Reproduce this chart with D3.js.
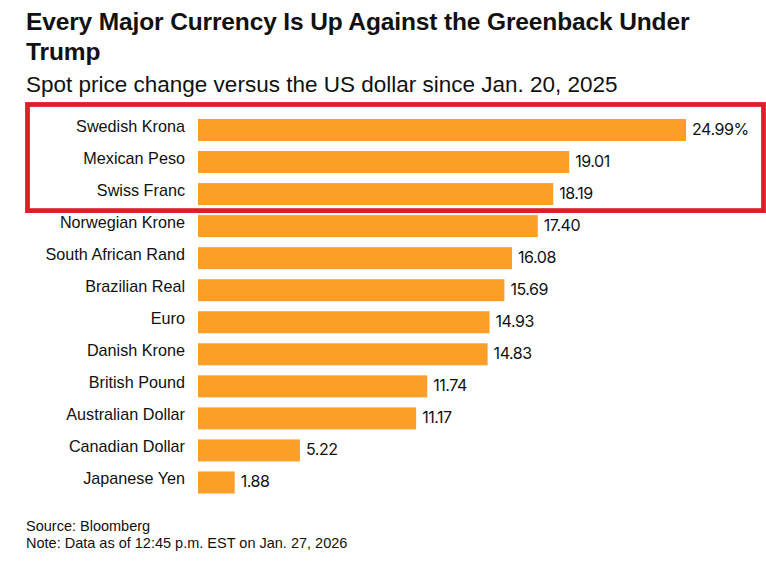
<!DOCTYPE html>
<html lang="en">
<head>
<meta charset="utf-8">
<title>Every Major Currency Is Up Against the Greenback Under Trump</title>
<script src="https://d3js.org/d3.v7.min.js"></script>
<style>
html, body { margin: 0; padding: 0; background: #fff; }
svg { display: block; }
text { font-family: "Liberation Sans", sans-serif; fill: #111; }
</style>
</head>
<body>
<svg id="chart" width="766" height="565"></svg>
<script>
const currencies = ["Swedish Krona", "Mexican Peso", "Swiss Franc", "Norwegian Krone", "South African Rand",
  "Brazilian Real", "Euro", "Danish Krone", "British Pound", "Australian Dollar", "Canadian Dollar", "Japanese Yen"];
const changes = [24.99, 19.01, 18.19, 17.40, 16.08, 15.69, 14.93, 14.83, 11.74, 11.17, 5.22, 1.88];
const titleLines = ["Every Major Currency Is Up Against the Greenback Under", "Trump"];
const subtitle = "Spot price change versus the US dollar since Jan. 20, 2025";
const footnotes = ["Source: Bloomberg", "Note: Data as of 12:45 p.m. EST on Jan. 27, 2026"];
const highlighted = ["Swedish Krona", "Mexican Peso", "Swiss Franc"];

const svg = d3.select("#chart");

const x = d3.scaleLinear().domain([0, 24.99]).range([198, 686]);
const y = d3.scaleBand().domain(currencies).range([114.5, 498]).paddingInner(0.3125).paddingOuter(0.14);

// title block
svg.selectAll("text.title").data(titleLines).enter().append("text")
  .attr("class", "title")
  .attr("x", 26)
  .attr("y", (d, i) => 30 + i * 30)
  .attr("font-size", 24.5)
  .attr("font-weight", 700)
  .attr("letter-spacing", -0.13)
  .text(d => d);

svg.append("text")
  .attr("x", 26).attr("y", 92)
  .attr("font-size", 22.5)
  .text(subtitle);

// bars
svg.selectAll("rect.bar").data(currencies).enter().append("rect")
  .attr("class", "bar")
  .attr("x", x(0))
  .attr("y", d => y(d))
  .attr("width", (d, i) => x(changes[i]) - x(0))
  .attr("height", y.bandwidth())
  .attr("fill", "#fb9f29");

// category labels
const yAxis = d3.axisLeft(y).tickSize(0).tickPadding(13);
const yG = svg.append("g").attr("transform", `translate(${x(0)},0)`).call(yAxis);
yG.select(".domain").remove();
yG.selectAll("text")
  .attr("font-family", "Liberation Sans")
  .attr("font-size", 16.2)
  .attr("dy", "0.1em");

// value labels, Inter for its narrow 1
svg.selectAll("text.value").data(currencies).enter().append("text")
  .attr("class", "value")
  .attr("x", (d, i) => x(changes[i]) + 6)
  .attr("y", d => y(d) + y.bandwidth() / 2 + 4.5)
  .attr("font-size", 16)
  .style("font-family", "Inter")
  .attr("letter-spacing", -0.45)
  .text((d, i) => changes[i].toFixed(2) + (i === 0 ? "%" : ""));

// red box round the top three, right edge sits on the picture edge
const boxTop = y(highlighted[0]) - 14.5;
const boxBottom = y(highlighted[2]) + y.bandwidth() + 5.5;
svg.append("rect")
  .attr("x", 27.5)
  .attr("y", boxTop)
  .attr("width", 736)
  .attr("height", boxBottom - boxTop)
  .attr("fill", "none")
  .attr("stroke", "#dc2029")
  .attr("stroke-width", 4.8);

// source lines
svg.selectAll("text.foot").data(footnotes).enter().append("text")
  .attr("class", "foot")
  .attr("x", 26)
  .attr("y", (d, i) => 531 + i * 17)
  .attr("font-size", 14.5)
  .text(d => d);
</script>
</body>
</html>
